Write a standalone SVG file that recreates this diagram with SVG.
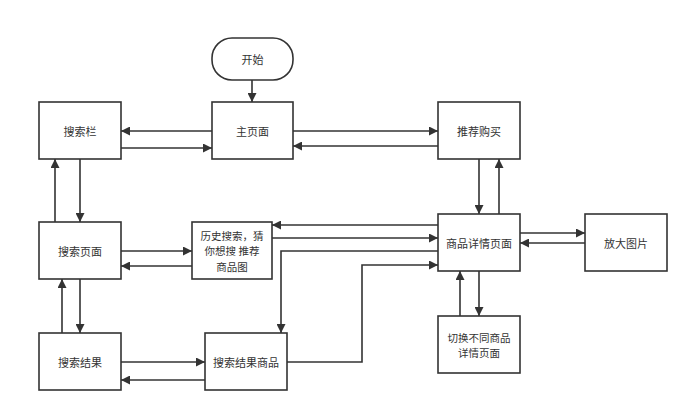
<svg xmlns="http://www.w3.org/2000/svg" width="692" height="416" viewBox="0 0 692 416">
<defs>
<marker id="ah" viewBox="0 0 10 10" refX="10" refY="5" markerWidth="9" markerHeight="9" markerUnits="userSpaceOnUse" orient="auto">
<path d="M0,0 L10,5 L0,10 z" fill="#333"/>
</marker>
<style>
.n{fill:#fff;stroke:#333;stroke-width:1.6}
.t{font-family:"Noto Sans CJK SC","Liberation Sans",sans-serif;font-size:11px;fill:#333;text-anchor:middle;dominant-baseline:central}
.m{font-size:10.5px}
.c{fill:none;stroke:#333;stroke-width:1.6;marker-end:url(#ah)}
</style>
</defs>
<rect width="692" height="416" fill="#fff"/>
<g id="connectors">
<path class="c" d="M252,80 V102"/>
<path class="c" d="M212,131 H121"/>
<path class="c" d="M121,148 H212"/>
<path class="c" d="M293,131 H438"/>
<path class="c" d="M438,146 H293"/>
<path class="c" d="M55,222 V159"/>
<path class="c" d="M80,159 V222"/>
<path class="c" d="M479,159 V214"/>
<path class="c" d="M499,214 V159"/>
<path class="c" d="M121,251 H192"/>
<path class="c" d="M192,266 H121"/>
<path class="c" d="M438,225 H272"/>
<path class="c" d="M272,238 H438"/>
<path class="c" d="M520,233 H585"/>
<path class="c" d="M585,243 H520"/>
<path class="c" d="M62,333 V279"/>
<path class="c" d="M80,279 V333"/>
<path class="c" d="M438,251 H281 V333"/>
<path class="c" d="M287,362 H362 V265 H438"/>
<path class="c" d="M121,362 H205"/>
<path class="c" d="M205,380 H121"/>
<path class="c" d="M460,316 V271"/>
<path class="c" d="M479,271 V316"/>
</g>
<g id="start"><rect class="n" x="212" y="38" width="81" height="42" rx="20" ry="20"/><text class="t" x="252.5" y="59">开始</text></g>
<g id="main"><rect class="n" x="212" y="102" width="81" height="57"/><text class="t" x="252.5" y="130.5">主页面</text></g>
<g id="searchbar"><rect class="n" x="39" y="102" width="82" height="57"/><text class="t" x="80" y="130.5">搜索栏</text></g>
<g id="recommend"><rect class="n" x="438" y="102" width="82" height="57"/><text class="t" x="479" y="130.5">推荐购买</text></g>
<g id="searchpage"><rect class="n" x="39" y="222" width="82" height="57"/><text class="t" x="80" y="250.5">搜索页面</text></g>
<g id="history"><rect class="n" x="192" y="222" width="80" height="57"/><text class="t m" x="232" y="235">历史搜索，猜</text><text class="t m" x="232" y="250.5">你想搜 推荐</text><text class="t m" x="232" y="266">商品图</text></g>
<g id="detail"><rect class="n" x="438" y="214" width="82" height="57"/><text class="t" x="479" y="242.5">商品详情页面</text></g>
<g id="zoom"><rect class="n" x="585" y="214" width="82" height="57"/><text class="t" x="626" y="242.5">放大图片</text></g>
<g id="results"><rect class="n" x="39" y="333" width="82" height="57"/><text class="t" x="80" y="361.5">搜索结果</text></g>
<g id="resultgoods"><rect class="n" x="205" y="333" width="82" height="57"/><text class="t" x="246" y="361.5">搜索结果商品</text></g>
<g id="switch"><rect class="n" x="438" y="316" width="82" height="57"/><text class="t m" x="479" y="337">切换不同商品</text><text class="t m" x="479" y="352.5">详情页面</text></g>
</svg>
